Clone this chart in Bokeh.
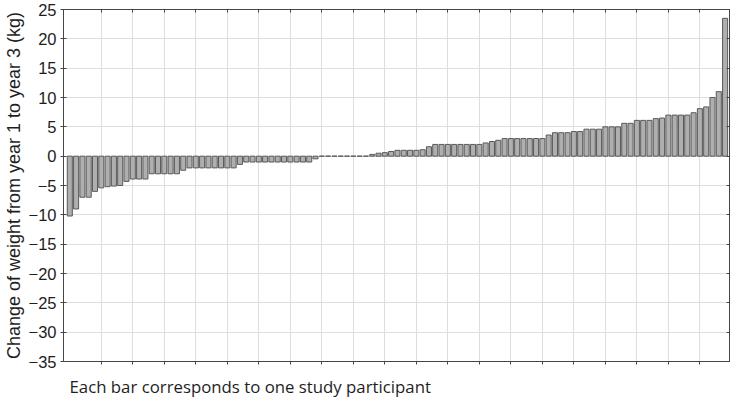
from bokeh.plotting import figure
from bokeh.models import Range1d, FixedTicker, LinearAxis, Title
from bokeh.embed import file_html
from bokeh.resources import INLINE

# ---- data ----
participants = list(range(1, 106))
weight_change = [
    -10.2, -9.0, -7.0, -7.0, -6.0, -5.4, -5.2, -5.1, -5.0, -4.3,
    -3.9, -3.9, -3.9, -3.0, -3.0, -3.0, -3.0, -3.0, -2.4, -2.0,
    -2.0, -2.0, -2.0, -2.0, -2.0, -2.0, -2.0, -1.4, -1.0, -1.0,
    -1.0, -1.0, -1.0, -1.0, -1.0, -1.0, -1.0, -1.0, -1.0, -0.45,
    0.0, 0.0, 0.0, 0.0, 0.0, 0.0, 0.0, 0.0, 0.3, 0.5,
    0.6, 0.8, 1.0, 1.0, 1.0, 1.0, 1.1, 1.6, 2.0, 2.0,
    2.0, 2.0, 2.0, 2.0, 2.0, 2.0, 2.25, 2.5, 2.7, 3.0,
    3.0, 3.0, 3.0, 3.0, 3.0, 3.0, 3.6, 4.0, 4.0, 4.0,
    4.2, 4.2, 4.6, 4.6, 4.6, 5.0, 5.0, 5.0, 5.6, 5.6,
    6.1, 6.1, 6.1, 6.4, 6.5, 7.0, 7.0, 7.0, 7.0, 7.4,
    8.1, 8.4, 10.0, 11.0, 23.5,
]
y_ticks = [-35, -30, -25, -20, -15, -10, -5, 0, 5, 10, 15, 20, 25]
x_grid_ticks = [6, 11, 16, 21, 26, 31, 36, 41, 46, 51, 56, 61, 66, 71, 76, 81, 86, 91, 96, 101]
y_title = "Change of weight from year 1 to year 3 (kg)"
x_note = "Each bar corresponds to one study participant"

AXIS_COL = "#454545"
GRID_COL = "#dedede"
TEXT_COL = "#1e1e1e"

p = figure(
    width=730, height=409,
    output_backend="svg", toolbar_location=None,
    x_range=Range1d(0, 105.7), y_range=Range1d(-35, 25),
    min_border_left=56, min_border_right=1, min_border_top=9, min_border_bottom=0,
)
p.background_fill_color = "white"
p.border_fill_color = "white"
p.outline_line_color = AXIS_COL
p.outline_line_width = 1

p.vbar(x=participants, top=weight_change, bottom=0, width=0.8,
       fill_color="#afafaf", line_color="#595959", line_width=1)

# x axis (bottom): ticks only
p.xaxis.ticker = FixedTicker(ticks=x_grid_ticks)
p.xaxis.major_label_text_font_size = "0px"
p.xaxis.major_label_standoff = 0
p.xaxis.major_tick_in = 0
p.xaxis.major_tick_out = 3
p.xaxis.minor_tick_line_color = None
p.xaxis.axis_line_color = AXIS_COL
p.xaxis.major_tick_line_color = AXIS_COL

# y axis (left)
p.yaxis.ticker = FixedTicker(ticks=y_ticks)
p.yaxis.major_label_text_font = "Liberation Sans"
p.yaxis.major_label_text_font_size = "16.5px"
p.yaxis.major_label_text_color = TEXT_COL
p.yaxis.major_label_standoff = 4
p.yaxis.major_tick_in = 3
p.yaxis.major_tick_out = 3
p.yaxis.minor_tick_line_color = None
p.yaxis.axis_line_color = AXIS_COL
p.yaxis.major_tick_line_color = AXIS_COL
p.yaxis.axis_label = y_title
p.yaxis.axis_label_text_font = "Liberation Sans"
p.yaxis.axis_label_text_font_size = "18px"
p.yaxis.axis_label_text_font_style = "normal"
p.yaxis.axis_label_text_color = TEXT_COL
p.yaxis.axis_label_standoff = 2

# grids
p.xgrid.ticker = FixedTicker(ticks=x_grid_ticks)
p.xgrid.grid_line_color = GRID_COL
p.ygrid.grid_line_color = GRID_COL

# top and right tick marks (no labels)
top_axis = LinearAxis(ticker=FixedTicker(ticks=x_grid_ticks),
                      major_label_text_font_size="0px", major_label_standoff=0,
                      major_tick_in=3, major_tick_out=0,
                      minor_tick_line_color=None,
                      axis_line_color=AXIS_COL, major_tick_line_color=AXIS_COL)
p.add_layout(top_axis, "above")
right_axis = LinearAxis(ticker=FixedTicker(ticks=y_ticks),
                        major_label_text_font_size="0px", major_label_standoff=0,
                        major_tick_in=3, major_tick_out=0,
                        minor_tick_line_color=None,
                        axis_line_color=AXIS_COL, major_tick_line_color=AXIS_COL)
p.add_layout(right_axis, "right")

# note below the chart
note = Title(text=x_note, align="left", offset=6, vertical_align="top",
             text_font="Open Sans", text_font_size="16.8px",
             text_font_style="normal", text_color=TEXT_COL, standoff=20)
p.add_layout(note, "below")

open("out.html", "w").write(file_html(p, INLINE))
